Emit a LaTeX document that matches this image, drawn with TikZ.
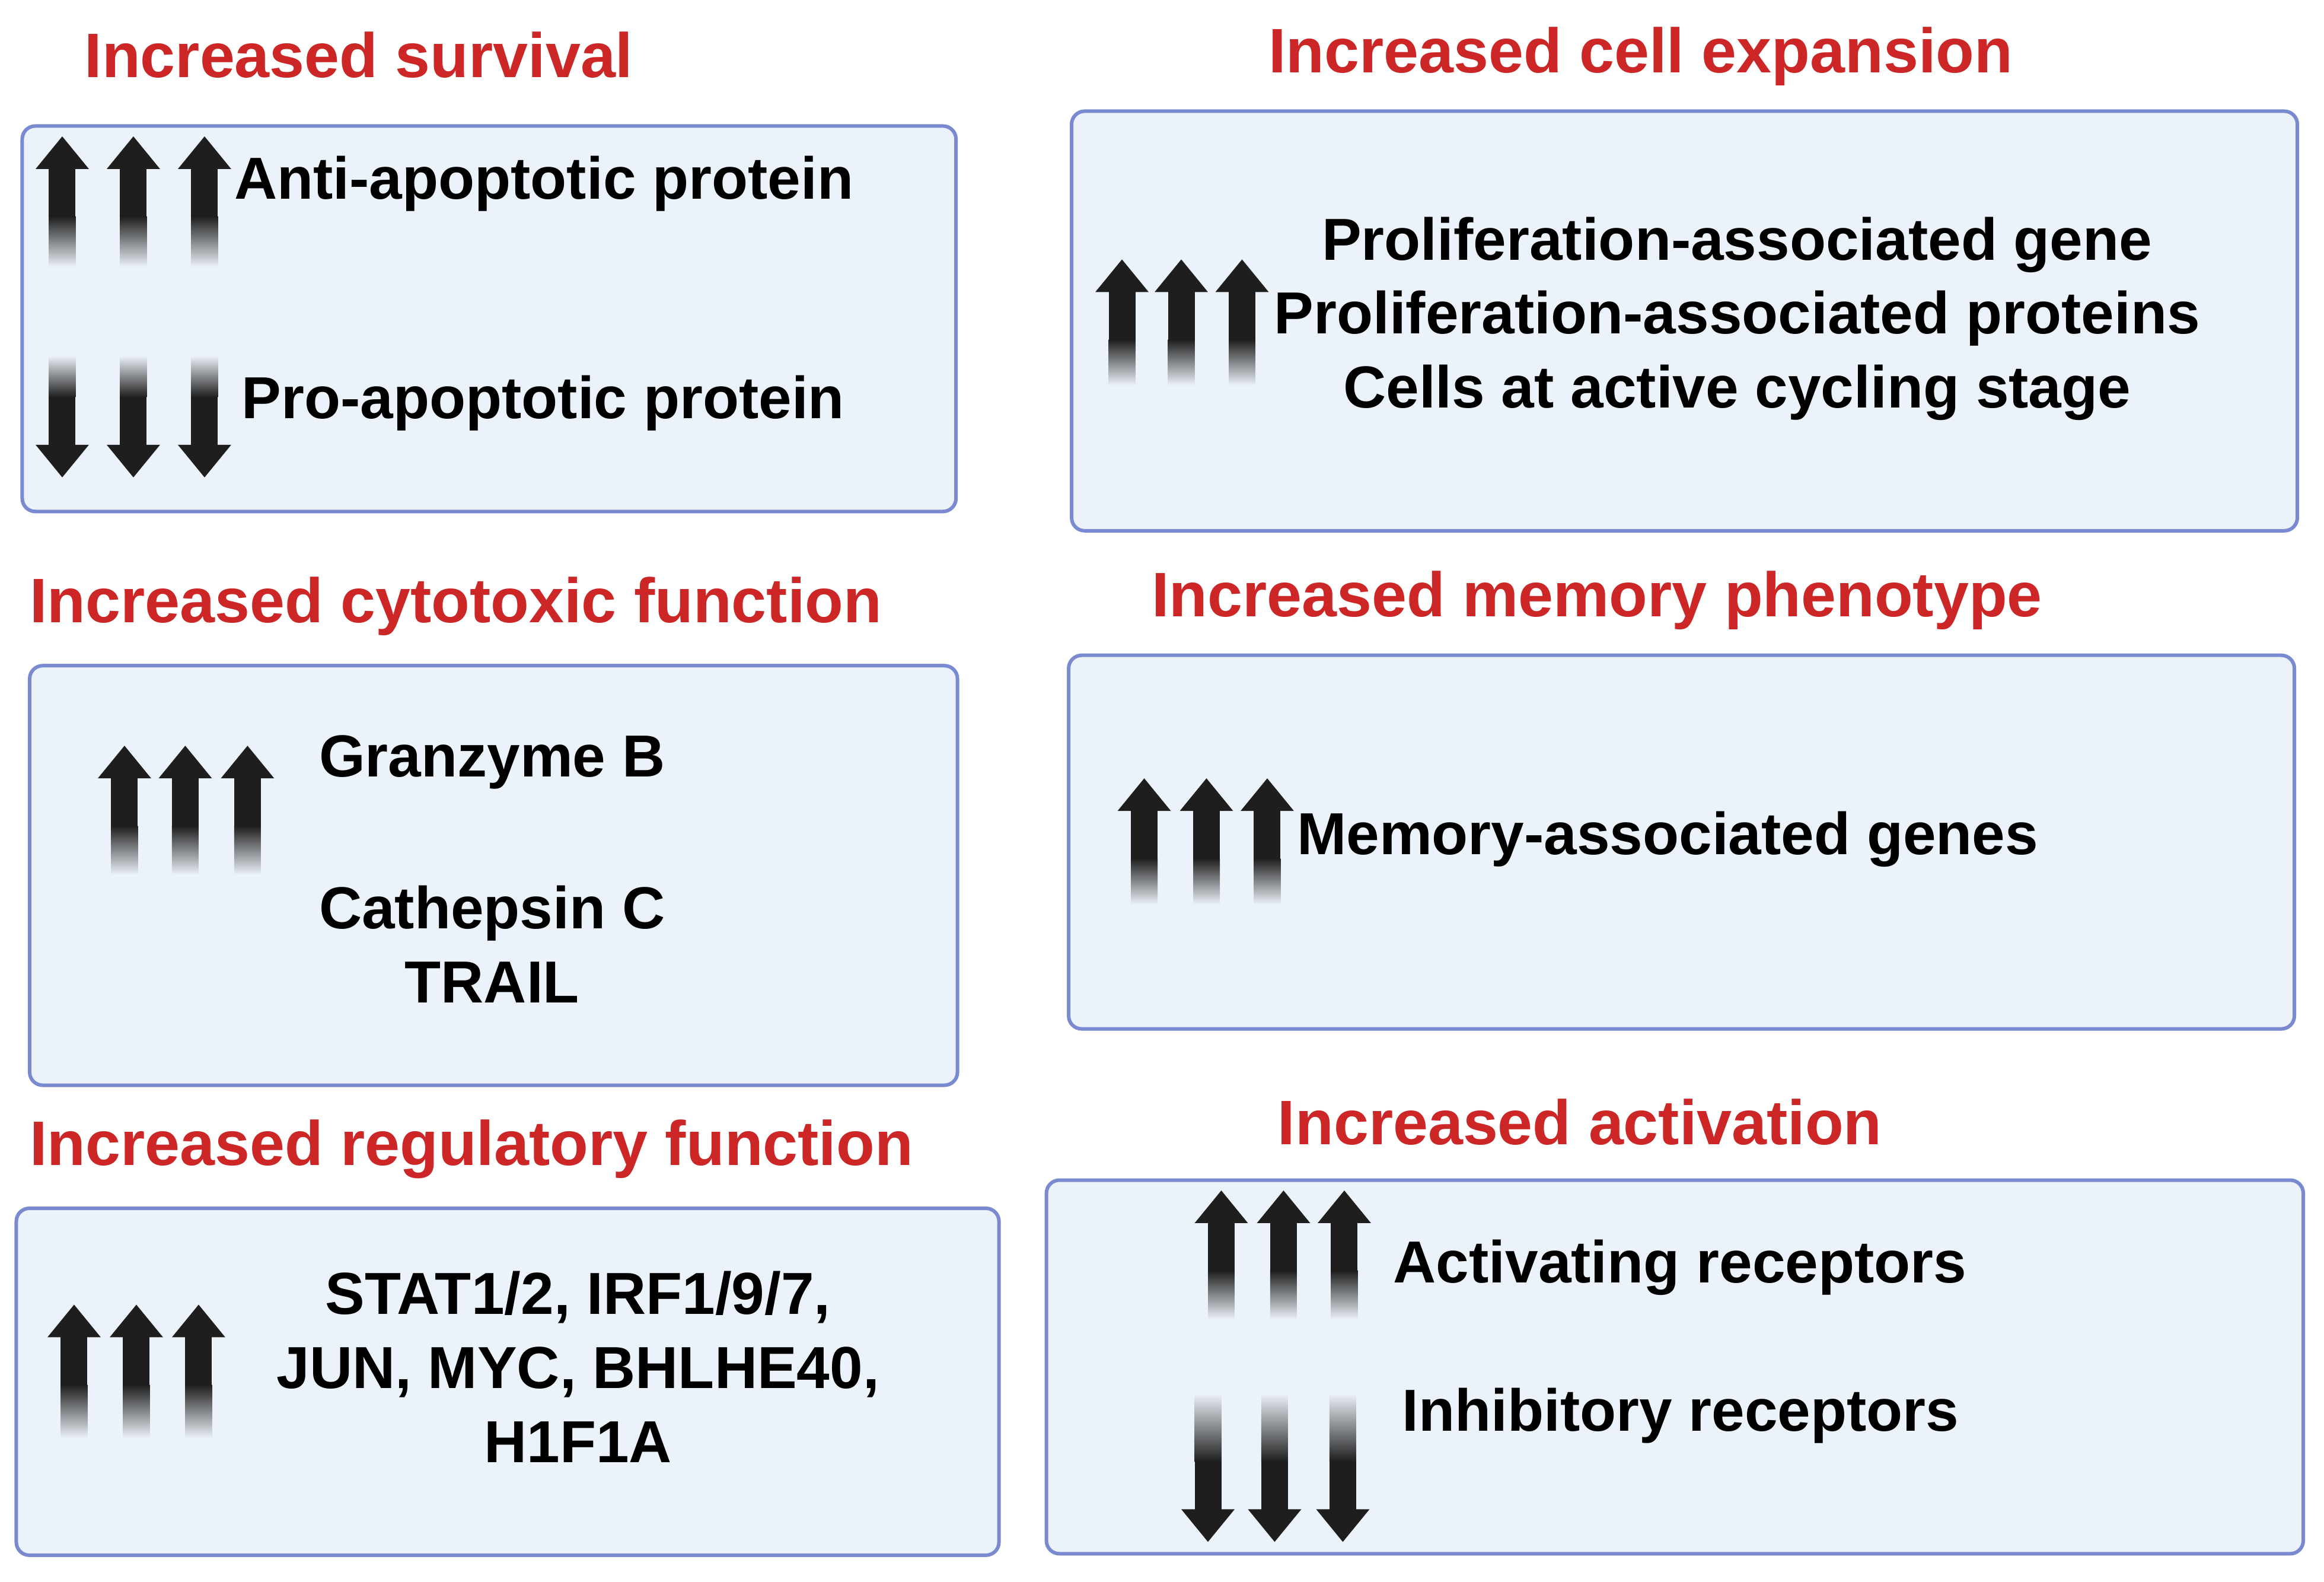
\documentclass[tikz,border=0pt]{standalone}
\usepackage{fontspec}
\setmainfont{Liberation Sans}
\definecolor{bx}{RGB}{122,138,208}
\definecolor{bf}{RGB}{236,242,249}
\definecolor{tt}{RGB}{205,38,38}
\definecolor{ar}{RGB}{30,30,30}
\newcommand\myUp[3]{% x, top, bottom
  \fill[ar] (#1-9,#2+20) rectangle (#1+9,#2+55);
  \shade[top color=ar,bottom color=bf] (#1-9,#2+54) rectangle (#1+9,#3);
  \fill[ar] (#1-18,#2+22) -- (#1,#2) -- (#1+18,#2+22) -- cycle;}
\newcommand\myDn[3]{% x, top, bottom(tip)
  \fill[ar] (#1-9,#3-20) rectangle (#1+9,#3-55);
  \shade[top color=bf,bottom color=ar] (#1-9,#2) rectangle (#1+9,#3-54);
  \fill[ar] (#1-18,#3-22) -- (#1,#3) -- (#1+18,#3-22) -- cycle;}
\begin{document}
\begin{tikzpicture}[x=2.5pt,y=-2.5pt,
  box/.style={draw=bx,fill=bf,line width=6pt,rounded corners=22pt},
  ttl/.style={text=tt,font=\fontsize{106}{120}\selectfont\bfseries,inner sep=0},
  txt/.style={font=\fontsize{100}{125}\selectfont\bfseries,inner sep=0,align=center}]
\useasboundingbox[fill=white] (0,0) rectangle (1568,1067);
% box 1
\node[ttl,anchor=west] (t1) at (57,37) {Increased survival};
\draw[box] (15,85) rectangle (645,345);
\foreach \x in {42,90,138} {\myUp{\x}{92}{180}\myDn{\x}{240}{322}}
\node[txt,anchor=west] (a1) at (158,124) {Anti-apoptotic protein};
\node[txt,anchor=west] (a2) at (163,272) {Pro-apoptotic protein};
% box 2
\node[ttl] (t2) at (1107,38) {Increased cell expansion};
\draw[box] (723,75) rectangle (1550,358);
\foreach \x in {757,797,838} {\myUp{\x}{175}{260}}
\node[txt] (b1) at (1172,215) {Proliferation-associated gene\\Proliferation-associated proteins\\Cells at active cycling stage};
% box 3
\node[ttl,anchor=west] (t3) at (20,409) {Increased cytotoxic function};
\draw[box] (20,449) rectangle (646,732);
\foreach \x in {84,125,167} {\myUp{\x}{503}{590}}
\node[txt] (c1) at (332,514) {Granzyme B};
\node[txt] (c2) at (332,637) {Cathepsin C\\TRAIL};
% box 4
\node[ttl,anchor=west] (t4) at (777,405) {Increased memory phenotype};
\draw[box] (721,442) rectangle (1548,694);
\foreach \x in {772,814,855} {\myUp{\x}{525}{610}}
\node[txt,anchor=west] (d1) at (875,566) {Memory-associated genes};
% box 5
\node[ttl,anchor=west] (t5) at (20,775) {Increased regulatory function};
\draw[box] (11,815) rectangle (674,1049);
\foreach \x in {50,92,134} {\myUp{\x}{880}{970}}
\node[txt] (e1) at (390,922) {STAT1/2, IRF1/9/7,\\JUN, MYC, BHLHE40,\\H1F1A};
% box 6
\node[ttl] (t6) at (1066,757) {Increased activation};
\draw[box] (706,796) rectangle (1554,1048);
\foreach \x in {824,866,907} {\myUp{\x}{803}{890}}
\foreach \x in {815,860,906} {\myDn{\x}{940}{1040}}
\node[txt,anchor=west] (f1) at (940,855) {Activating receptors};
\node[txt,anchor=west] (f2) at (946,955) {Inhibitory receptors};
\end{tikzpicture}
\end{document}
